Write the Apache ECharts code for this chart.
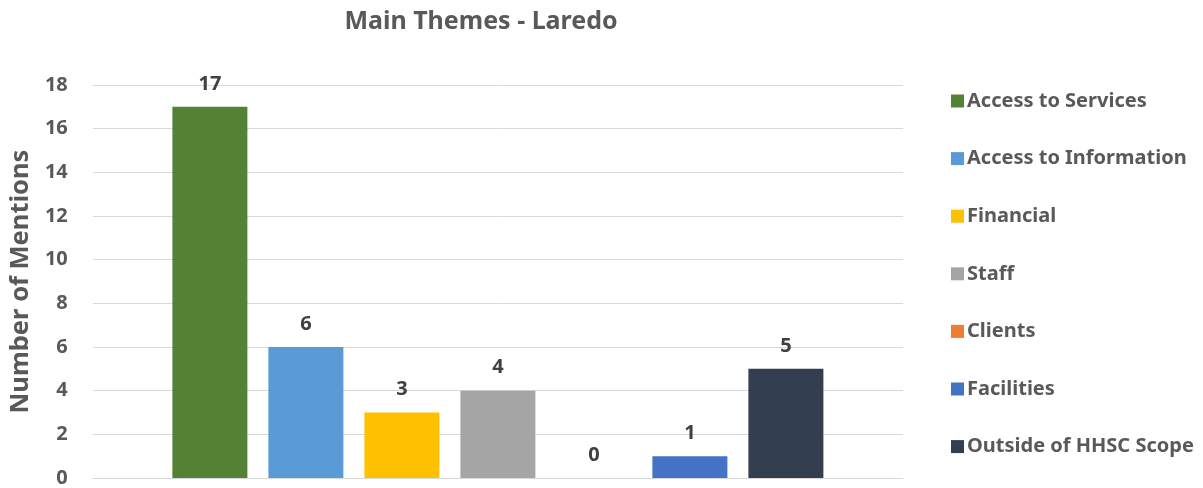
<!DOCTYPE html>
<html><head><meta charset="utf-8">
<script src="https://cdn.jsdelivr.net/npm/echarts@6/dist/echarts.min.js"></script>
<style>html,body{margin:0;padding:0;background:#fff}#c{width:1203px;height:488px}</style>
</head><body><div id="c"></div>
<script>
const seriesNames = ["Access to Services","Access to Information","Financial","Staff","Clients","Facilities","Outside of HHSC Scope"];
const seriesValues = [17, 6, 3, 4, 0, 1, 5];
const seriesColors = ["#548235","#5b9bd5","#ffc000","#a5a5a5","#ed7d31","#4472c4","#333f50"];
const categories = [""];
const yTicks = [0, 18, 2];

const FONT = '"Noto Sans", "Open Sans", sans-serif';
const chart = echarts.init(document.getElementById('c'));
chart.setOption({
  animation: false,
  title: {
    text: 'Main Themes - Laredo',
    left: 476, top: 4, textAlign: 'center',
    textStyle: {fontFamily: FONT, fontSize: 25, fontWeight: 'bold', color: '#595959'}
  },
  legend: {
    orient: 'vertical', left: 946, top: 86, itemGap: 37.6,
    itemWidth: 13, itemHeight: 13, icon: 'rect',
    textStyle: {fontFamily: FONT, fontSize: 20, lineHeight: 20, fontWeight: 'bold', color: '#595959', padding: [0,0,0,-2]},
    data: seriesNames
  },
  grid: {left: 85, right: 300, top: 85, bottom: 10, containLabel: false},
  xAxis: {
    type: 'category', data: categories,
    axisLine: {lineStyle: {color: '#d9d9d9', width: 1}},
    axisTick: {show: false}, axisLabel: {show: false}
  },
  yAxis: {
    type: 'value', min: yTicks[0], max: yTicks[1], interval: yTicks[2],
    name: 'Number of Mentions', nameLocation: 'middle', nameGap: 56,
    nameTextStyle: {fontFamily: FONT, fontSize: 25.5, fontWeight: 'bold', color: '#595959'},
    axisLine: {show: false}, axisTick: {show: false},
    axisLabel: {fontFamily: FONT, fontSize: 20, fontWeight: 'bold', color: '#595959', margin: 25},
    splitLine: {lineStyle: {color: '#d9d9d9', width: 1}}
  },
  series: seriesNames.map((n, i) => ({
    name: n, type: 'bar', data: [seriesValues[i]],
    barWidth: 75, barGap: '28%',
    itemStyle: {color: seriesColors[i]},
    label: {show: true, position: 'top', distance: 13,
      fontFamily: FONT, fontSize: 20, fontWeight: 'bold', color: '#404040'}
  }))
});
</script></body></html>
